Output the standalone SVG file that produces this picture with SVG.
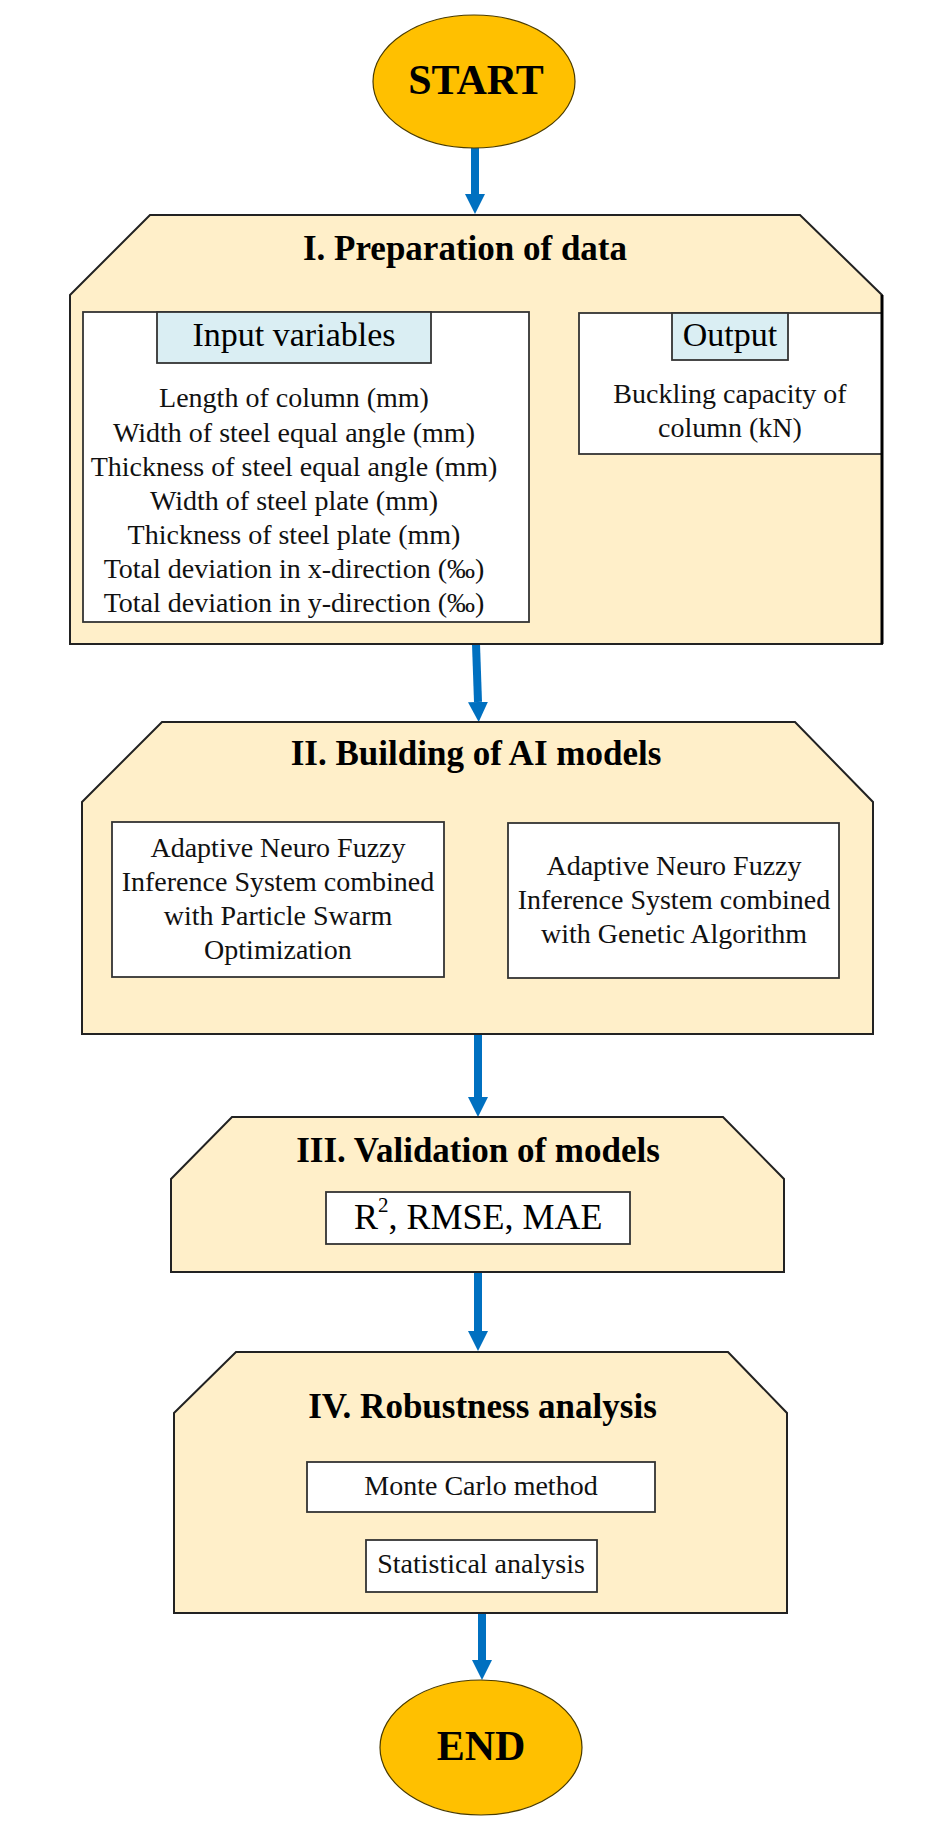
<svg xmlns="http://www.w3.org/2000/svg" width="946" height="1824" viewBox="0 0 946 1824">
<style>
.bg{fill:#ffffff}
.term{fill:#FFC000;stroke:#4a3b00;stroke-width:1.2}
.stage{fill:#FFEFC9;stroke:#222222;stroke-width:2}
.inner{fill:#ffffff;stroke:#333333;stroke-width:1.8}
.hdr{fill:#DAEEF3;stroke:#333333;stroke-width:1.8}
.conn{stroke:#0070C0;stroke-width:8;fill:none}
.tterm{font-family:"Liberation Serif","Times New Roman",serif;font-weight:bold;font-size:42px;fill:#000;text-anchor:middle}
.ttitle{font-family:"Liberation Serif","Times New Roman",serif;font-weight:bold;font-size:35px;fill:#000;text-anchor:middle}
.thdr{font-family:"Liberation Serif","Times New Roman",serif;font-size:34px;fill:#000;text-anchor:middle}
.tbody{font-family:"Liberation Serif","Times New Roman",serif;font-size:28px;fill:#111;text-anchor:middle}
.tmet{font-family:"Liberation Serif","Times New Roman",serif;font-size:36px;fill:#000}
</style>
<defs>
<marker id="ah" viewBox="0 0 20 20" markerWidth="20" markerHeight="20" refX="0" refY="10" orient="auto" markerUnits="userSpaceOnUse">
<path d="M0,0 L20,10 L0,20 z" fill="#0070C0"/>
</marker>
</defs>
<rect class="bg" x="0" y="0" width="946" height="1824"/>

<g id="connectors">
<line class="conn" x1="475" y1="146" x2="475" y2="194" marker-end="url(#ah)"/>
<line class="conn" x1="476" y1="644" x2="478" y2="702" marker-end="url(#ah)"/>
<line class="conn" x1="478" y1="1034" x2="478" y2="1097" marker-end="url(#ah)"/>
<line class="conn" x1="478" y1="1272" x2="478" y2="1331" marker-end="url(#ah)"/>
<line class="conn" x1="482" y1="1613" x2="482" y2="1660" marker-end="url(#ah)"/>
</g>

<g id="start">
<ellipse class="term" cx="474" cy="81.5" rx="101" ry="66.5"/>
<text class="tterm" x="476" y="94">START</text>
</g>

<g id="stage1">
<polygon class="stage" points="70,295 150,215 800,215 882,295 882,644 70,644"/>
<text class="ttitle" x="465" y="260">I. Preparation of data</text>
<g id="inputs">
<rect class="inner" x="83" y="312" width="446" height="310"/>
<rect class="hdr" x="157" y="312" width="274" height="51"/>
<text class="thdr" x="294" y="346">Input variables</text>
<text class="tbody" x="294" y="407">Length of column (mm)</text>
<text class="tbody" x="294" y="441.5">Width of steel equal angle (mm)</text>
<text class="tbody" x="294" y="475.7">Thickness of steel equal angle (mm)</text>
<text class="tbody" x="294" y="510">Width of steel plate (mm)</text>
<text class="tbody" x="294" y="544">Thickness of steel plate (mm)</text>
<text class="tbody" x="294" y="578">Total deviation in x-direction (‰)</text>
<text class="tbody" x="294" y="612">Total deviation in y-direction (‰)</text>
</g>
<g id="output">
<rect class="inner" x="579" y="313" width="303" height="141"/>
<rect class="hdr" x="672" y="313" width="116" height="47"/>
<text class="thdr" x="730" y="346">Output</text>
<text class="tbody" x="730" y="403">Buckling capacity of</text>
<text class="tbody" x="730" y="437">column (kN)</text>
</g>
<line x1="882" y1="295" x2="882" y2="644" stroke="#000" stroke-width="3"/>
</g>

<g id="stage2">
<polygon class="stage" points="82,802 162,722 795,722 873,802 873,1034 82,1034"/>
<text class="ttitle" x="476" y="765">II. Building of AI models</text>
<g id="anfis-pso">
<rect class="inner" x="112" y="822" width="332" height="155"/>
<text class="tbody" x="278" y="857">Adaptive Neuro Fuzzy</text>
<text class="tbody" x="278" y="891">Inference System combined</text>
<text class="tbody" x="278" y="925">with Particle Swarm</text>
<text class="tbody" x="278" y="958.5">Optimization</text>
</g>
<g id="anfis-ga">
<rect class="inner" x="508" y="823" width="331" height="155"/>
<text class="tbody" x="674" y="875">Adaptive Neuro Fuzzy</text>
<text class="tbody" x="674" y="909">Inference System combined</text>
<text class="tbody" x="674" y="943.3">with Genetic Algorithm</text>
</g>
</g>

<g id="stage3">
<polygon class="stage" points="171,1179 232,1117 723,1117 784,1179 784,1272 171,1272"/>
<text class="ttitle" x="478" y="1161.5">III. Validation of models</text>
<g id="metrics">
<rect class="inner" x="326" y="1192" width="304" height="52"/>
<text class="tmet" x="354" y="1229">R<tspan dy="-17" style="font-size:21px">2</tspan><tspan dy="17">, RMSE, MAE</tspan></text>
</g>
</g>

<g id="stage4">
<polygon class="stage" points="174,1413 236,1352 728,1352 787,1413 787,1613 174,1613"/>
<text class="ttitle" x="482.5" y="1418">IV. Robustness analysis</text>
<g id="montecarlo">
<rect class="inner" x="307" y="1462" width="348" height="50"/>
<text class="tbody" x="481" y="1495">Monte Carlo method</text>
</g>
<g id="statistical">
<rect class="inner" x="366" y="1540" width="231" height="52"/>
<text class="tbody" x="481" y="1573">Statistical analysis</text>
</g>
</g>

<g id="end">
<ellipse class="term" cx="481" cy="1747.5" rx="101" ry="67.5"/>
<text class="tterm" x="481" y="1760">END</text>
</g>
</svg>
